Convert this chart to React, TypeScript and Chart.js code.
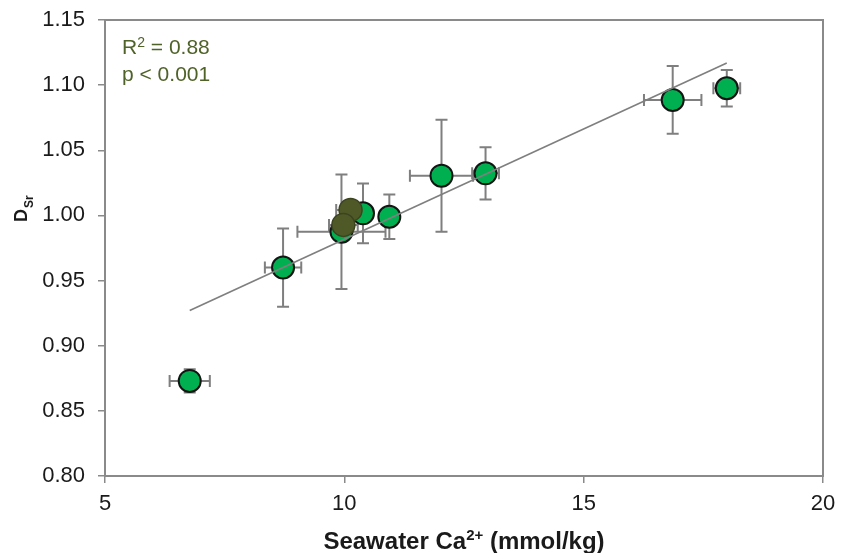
import React, { useEffect, useRef } from 'react';
import { Chart, registerables } from 'chart.js';

Chart.register(...registerables);

// ---- data ----
const greenX = [6.77, 8.72, 9.94, 10.39, 10.94, 12.03, 12.95, 16.86, 17.99];
const greenY = [0.873, 0.96, 0.9875, 1.0016, 0.999, 1.0305, 1.0323, 1.0886, 1.0976];
const greenXErr = [0.42, 0.38, 0.92, 0.2, 0.2, 0.66, 0.28, 0.6, 0.28];
const greenYErr = [0.009, 0.03, 0.044, 0.023, 0.017, 0.043, 0.02, 0.026, 0.014];

const oliveX = [10.13, 9.98];
const oliveY = [1.0042, 0.9927];
const oliveXErr = [0.3, 0.3];
const oliveYErr = [0.005, 0.005];

const fitX = [6.77, 17.99];
const fitY = [0.927, 1.117];

const xTicks = [5, 10, 15, 20];
const yTicks = [0.8, 0.85, 0.9, 0.95, 1.0, 1.05, 1.1, 1.15];

const statLines = ['R', '2', ' = 0.88', 'p < 0.001'];

const FONT = '"Liberation Sans", Arial, sans-serif';
const AXIS_GRAY = '#8a8a8a';
const ERR_GRAY = '#7f7f7f';

const errorBarPlugin = {
  id: 'errbars',
  beforeDatasetsDraw(chart: any) {
    const ctx = chart.ctx;
    const xs = chart.scales.x;
    const ys = chart.scales.y;
    const area = chart.chartArea;
    // frame
    ctx.save();
    ctx.strokeStyle = AXIS_GRAY;
    ctx.lineWidth = 2;
    ctx.strokeRect(area.left, area.top, area.right - area.left, area.bottom - area.top);
    ctx.restore();

    const draw = (X: number[], Y: number[], EX: number[], EY: number[]) => {
      ctx.save();
      ctx.strokeStyle = ERR_GRAY;
      ctx.lineWidth = 2;
      const cap = 6;
      for (let i = 0; i < X.length; i++) {
        const px = xs.getPixelForValue(X[i]);
        const py = ys.getPixelForValue(Y[i]);
        const y1 = ys.getPixelForValue(Y[i] + EY[i]);
        const y2 = ys.getPixelForValue(Y[i] - EY[i]);
        const x1 = xs.getPixelForValue(X[i] - EX[i]);
        const x2 = xs.getPixelForValue(X[i] + EX[i]);
        ctx.beginPath();
        ctx.moveTo(px, y1); ctx.lineTo(px, y2);
        ctx.moveTo(px - cap, y1); ctx.lineTo(px + cap, y1);
        ctx.moveTo(px - cap, y2); ctx.lineTo(px + cap, y2);
        ctx.moveTo(x1, py); ctx.lineTo(x2, py);
        ctx.moveTo(x1, py - cap); ctx.lineTo(x1, py + cap);
        ctx.moveTo(x2, py - cap); ctx.lineTo(x2, py + cap);
        ctx.stroke();
      }
      ctx.restore();
    };
    draw(greenX, greenY, greenXErr, greenYErr);
    draw(oliveX, oliveY, oliveXErr, oliveYErr);
  },
  afterDraw(chart: any) {
    const ctx = chart.ctx;
    const area = chart.chartArea;
    ctx.save();
    ctx.fillStyle = '#1a1a1a';
    ctx.textAlign = 'left';
    ctx.textBaseline = 'alphabetic';
    // x title
    const big = `bold 24px ${FONT}`;
    const small = `bold 15px ${FONT}`;
    const p1 = 'Seawater Ca';
    const p2 = '2+';
    const p3 = ' (mmol/kg)';
    ctx.font = big;
    const w1 = ctx.measureText(p1).width;
    const w3 = ctx.measureText(p3).width;
    ctx.font = small;
    const w2 = ctx.measureText(p2).width;
    const total = w1 + w2 + w3;
    let x = (area.left + area.right) / 2 - total / 2;
    const base = 549;
    ctx.font = big;
    ctx.fillText(p1, x, base);
    x += w1;
    ctx.font = small;
    ctx.fillText(p2, x, base - 9);
    x += w2;
    ctx.font = big;
    ctx.fillText(p3, x, base);

    // y title D_Sr
    ctx.save();
    ctx.translate(27, 222);
    ctx.rotate(-Math.PI / 2);
    ctx.font = `bold 18px ${FONT}`;
    ctx.fillText('D', 0, 0);
    const wd = ctx.measureText('D').width;
    ctx.font = `bold 12px ${FONT}`;
    ctx.fillText('Sr', wd + 1, 6);
    ctx.restore();

    // stats annotation
    ctx.fillStyle = '#4f6228';
    ctx.font = `21px ${FONT}`;
    let sx = 122;
    ctx.fillText(statLines[0], sx, 54);
    sx += ctx.measureText(statLines[0]).width;
    ctx.font = `14px ${FONT}`;
    ctx.fillText(statLines[1], sx, 47);
    sx += ctx.measureText(statLines[1]).width;
    ctx.font = `21px ${FONT}`;
    ctx.fillText(statLines[2], sx, 54);
    ctx.fillText(statLines[3], 122, 81);
    ctx.restore();
  },
};

export default function App() {
  const ref = useRef<HTMLCanvasElement>(null);
  useEffect(() => {
    document.body.style.margin = '0';
    const canvas = ref.current!;
    const chart = new Chart(canvas, {
      type: 'scatter',
      data: {
        datasets: [
          {
            type: 'line',
            data: fitX.map((v, i) => ({ x: v, y: fitY[i] })),
            borderColor: '#7f7f7f',
            borderWidth: 1.6,
            pointRadius: 0,
            fill: false,
            order: 0,
          } as any,
          {
            data: oliveX.map((v, i) => ({ x: v, y: oliveY[i] })),
            backgroundColor: '#4f5928',
            borderColor: '#3c431f',
            borderWidth: 1.5,
            pointRadius: 11.5,
            order: 1,
          },
          {
            data: greenX.map((v, i) => ({ x: v, y: greenY[i] })),
            backgroundColor: '#00b050',
            borderColor: '#141414',
            borderWidth: 2,
            pointRadius: 11,
            order: 2,
          },
        ],
      },
      options: {
        responsive: false,
        animation: false,
        devicePixelRatio: 1,
        layout: { padding: { left: 0, right: 18, top: 20, bottom: 0 } },
        plugins: { legend: { display: false }, tooltip: { enabled: false } },
        scales: {
          x: {
            type: 'linear',
            min: 5,
            max: 20,
            afterBuildTicks: (s: any) => { s.ticks = xTicks.map((v) => ({ value: v })); },
            afterFit: (s: any) => { s.height = 77; s.paddingLeft = 0; s.paddingRight = 0; },
            ticks: {
              color: '#1a1a1a',
              font: { family: FONT, size: 22 },
              padding: 8,
              maxRotation: 0,
              callback: (v: any) => String(v),
            },
            grid: { drawOnChartArea: false, drawTicks: true, tickLength: 7, color: AXIS_GRAY, lineWidth: 1.5 },
            border: { display: true, color: AXIS_GRAY, width: 2 },
          },
          y: {
            type: 'linear',
            min: 0.8,
            max: 1.15,
            afterBuildTicks: (s: any) => { s.ticks = yTicks.map((v) => ({ value: v })); },
            afterFit: (s: any) => { s.width = 105; s.paddingTop = 0; s.paddingBottom = 0; },
            ticks: {
              color: '#1a1a1a',
              font: { family: FONT, size: 22 },
              padding: 13,
              callback: (v: any) => Number(v).toFixed(2),
            },
            grid: { drawOnChartArea: false, drawTicks: true, tickLength: 7, color: AXIS_GRAY, lineWidth: 1.5 },
            border: { display: true, color: AXIS_GRAY, width: 2 },
          },
        },
      },
      plugins: [errorBarPlugin],
    });
    return () => chart.destroy();
  }, []);
  return <canvas ref={ref} width={841} height={553} style={{ display: 'block' }} />;
}
